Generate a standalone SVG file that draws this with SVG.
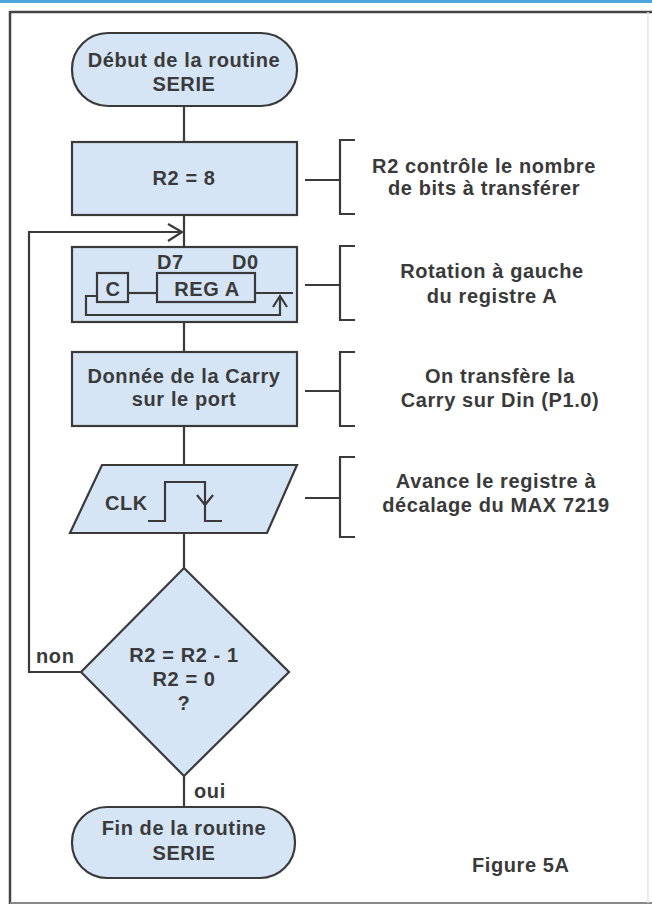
<svg xmlns="http://www.w3.org/2000/svg" width="652" height="905" viewBox="0 0 652 905">
<style>
.t{font-family:"Liberation Sans",Arial,sans-serif;font-weight:bold;font-size:20px;letter-spacing:0.6px;fill:#3a3a3a;text-anchor:middle}
.ts{font-family:"Liberation Sans",Arial,sans-serif;font-weight:bold;font-size:20px;letter-spacing:0.6px;fill:#3a3a3a}
.n{fill:#d5e5f5;stroke:#3a3a3a;stroke-width:2.2}
.l{fill:none;stroke:#3a3a3a;stroke-width:2.2}
</style>
<rect x="0" y="0" width="652" height="905" fill="#ffffff"/>
<rect x="0" y="0" width="652" height="3" fill="#4aa6dc"/>
<g id="frame">
<line x1="10" y1="12" x2="652" y2="12" stroke="#444" stroke-width="2.5"/>
<line x1="10" y1="11" x2="10" y2="904" stroke="#444" stroke-width="2.5"/>
<line x1="10" y1="903" x2="652" y2="903" stroke="#888" stroke-width="2"/>
<line x1="648" y1="12" x2="648" y2="903" stroke="#e4e4e4" stroke-width="1.5"/>
</g>
<g id="connectors">
<line class="l" x1="184" y1="106" x2="184" y2="142"/>
<line class="l" x1="184" y1="215" x2="184" y2="247"/>
<line class="l" x1="184" y1="322" x2="184" y2="352"/>
<line class="l" x1="184" y1="426" x2="184" y2="465"/>
<line class="l" x1="184" y1="533" x2="184" y2="568"/>
<line class="l" x1="184" y1="776" x2="184" y2="807"/>
<polyline class="l" points="81,672 29,672 29,232 181,232"/>
<polyline class="l" points="168,224 182,232 168,241"/>
</g>
<g id="start">
<rect class="n" x="72" y="33" width="225" height="73" rx="36" ry="36"/>
<text class="t" x="184" y="67">Début de la routine</text>
<text class="t" x="184" y="91">SERIE</text>
</g>
<g id="init">
<rect class="n" x="72" y="142" width="225" height="73"/>
<text class="t" x="184" y="185">R2 = 8</text>
</g>
<g id="rotate">
<rect class="n" x="72" y="247" width="225" height="75"/>
<text class="ts" x="157" y="269">D7</text>
<text class="ts" x="232" y="269">D0</text>
<rect class="l" x="97" y="273" width="31" height="29"/>
<text class="t" x="113" y="296">C</text>
<rect class="l" x="157" y="273" width="98" height="29"/>
<text class="t" x="207" y="296">REG A</text>
<line class="l" x1="128" y1="293" x2="157" y2="293"/>
<line class="l" x1="255" y1="293" x2="293" y2="293"/>
<polyline class="l" points="97,296 86,296 86,315 280,315 280,297"/>
<polyline class="l" points="273,307 280,296 287,307"/>
</g>
<g id="carry">
<rect class="n" x="72" y="352" width="225" height="74"/>
<text class="t" x="184" y="383">Donnée de la Carry</text>
<text class="t" x="184" y="406">sur le port</text>
</g>
<g id="clk">
<polygon class="n" points="102,465 297,465 267,533 70,533"/>
<text class="ts" x="105" y="510">CLK</text>
<polyline class="l" points="148,521 165,521 165,482 205,482 205,521 222,521"/>
<polyline class="l" points="197,495 205,505 213,495"/>
</g>
<g id="decision">
<polygon class="n" points="184,568 289,672 184,776 81,672"/>
<text class="t" x="184" y="662">R2 = R2 - 1</text>
<text class="t" x="184" y="686">R2 = 0</text>
<text class="t" x="184" y="710">?</text>
<text class="ts" x="36" y="663">non</text>
<text class="ts" x="194" y="798">oui</text>
</g>
<g id="end">
<rect class="n" x="72" y="807" width="223" height="71" rx="35" ry="35"/>
<text class="t" x="184" y="835">Fin de la routine</text>
<text class="t" x="184" y="860">SERIE</text>
</g>
<g id="note1">
<line class="l" x1="305" y1="180" x2="340" y2="180"/>
<polyline class="l" points="355,140 340,140 340,214 355,214"/>
<text class="t" x="484" y="173">R2 contrôle le nombre</text>
<text class="t" x="484" y="195">de bits à transférer</text>
</g>
<g id="note2">
<line class="l" x1="305" y1="285" x2="340" y2="285"/>
<polyline class="l" points="355,246 340,246 340,320 355,320"/>
<text class="t" x="492" y="278">Rotation à gauche</text>
<text class="t" x="492" y="303">du registre A</text>
</g>
<g id="note3">
<line class="l" x1="305" y1="391" x2="340" y2="391"/>
<polyline class="l" points="355,352 340,352 340,426 355,426"/>
<text class="t" x="500" y="383">On transfère la</text>
<text class="t" x="500" y="407">Carry sur Din (P1.0)</text>
</g>
<g id="note4">
<line class="l" x1="305" y1="498" x2="340" y2="498"/>
<polyline class="l" points="355,457 340,457 340,537 355,537"/>
<text class="t" x="496" y="488">Avance le registre à</text>
<text class="t" x="496" y="512">décalage du MAX 7219</text>
</g>
<text class="ts" x="472" y="872">Figure 5A</text>
</svg>
